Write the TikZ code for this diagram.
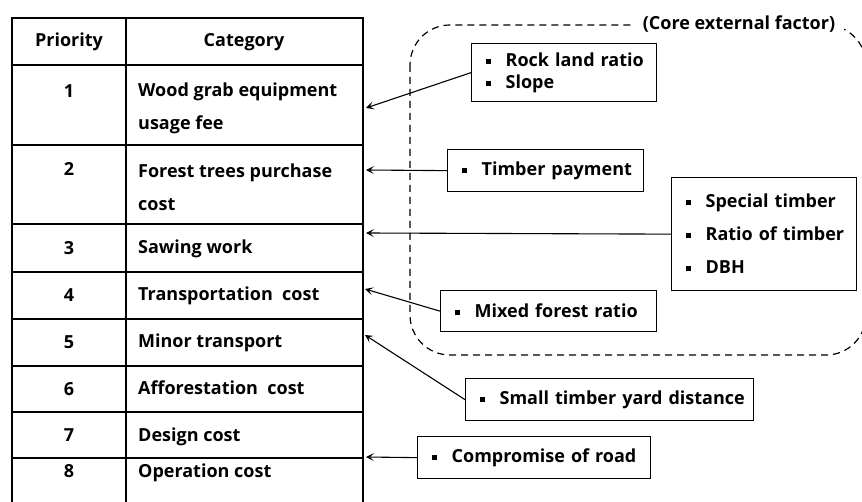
\documentclass[tikz,border=0pt]{standalone}
\usepackage{fontspec}
\setmainfont{Open Sans}
\usetikzlibrary{arrows.meta}
\newcommand{\sqb}{\hspace*{11pt}\makebox[20pt][l]{\rule[2.5pt]{5pt}{5pt}}}

\begin{document}
\begin{tikzpicture}[x=1pt,y=-1pt,
    cell/.style={font=\fontsize{18}{33}\selectfont\bfseries, inner sep=0pt, align=left},
    factor/.style={draw, line width=1.3pt, inner xsep=3pt, inner ysep=0pt, align=left, anchor=north west},
    link/.style={line width=1.1pt, -{Stealth[length=8pt, width=8pt, inset=4pt]}},
    rule/.style={line width=1.4pt}]
  \useasboundingbox (0,0) rectangle (862,502);
  % table frame
  \draw [rule] (12,508) -- (12,18) -- (363,18) -- (363,508);
  \draw [rule] (126,18) -- (126,508);
  \foreach \y in {65,145,224,272,319,366,412,458}
    \draw [rule] (12,\y) -- (363,\y);
  % header
  \node [cell] (p0) at (69,42) {Priority};
  \node [cell] (c0) at (244,42) {Category};
  % rows
  \node [cell] (p1) at (69,91) {1};
  \node [cell, anchor=west] (c1) at (138,108) {Wood grab equipment\\usage fee};
  \node [cell] (p2) at (69,169) {2};
  \node [cell, anchor=west] (c2) at (138,187) {Forest trees purchase\\cost};
  \node [cell] (p3) at (69,248) {3};
  \node [cell, anchor=base west] (c3) at (138,254) {Sawing work};
  \node [cell] (p4) at (69,295) {4};
  \node [cell, anchor=base west] (c4) at (138,301) {Transportation\ \ cost};
  \node [cell] (p5) at (69,342) {5};
  \node [cell, anchor=base west] (c5) at (138,348) {Minor transport};
  \node [cell] (p6) at (69,389) {6};
  \node [cell, anchor=base west] (c6) at (138,395) {Afforestation\ \ cost};
  \node [cell] (p7) at (69,435) {7};
  \node [cell, anchor=base west] (c7) at (138,441) {Design cost};
  \node [cell] (p8) at (69,471) {8};
  \node [cell, anchor=base west] (c8) at (138,477) {Operation cost};
  % arrow ends on the table
  \coordinate (t1) at (366,108);
  \coordinate (t2) at (366,170);
  \coordinate (t3) at (366,233);
  \coordinate (t4) at (365,289);
  \coordinate (t5) at (365,335);
  \coordinate (t7) at (366,457);
  % core external factor frame
  \draw [line width=1.2pt, dash pattern=on 7pt off 5pt, rounded corners=40pt] (410,25) rectangle (866,355);
  \node [cell, fill=white, inner xsep=9pt, inner ysep=2pt] (core) at (739,24) {(Core external factor)};
  % factor boxes
  \node [factor, minimum width=185pt, minimum height=58pt, text width=179pt,
    font=\fontsize{18}{22}\selectfont\bfseries] (b1) at (471,43) {\sqb Rock land ratio\\\sqb Slope};
  \node [factor, minimum width=196pt, minimum height=42pt, text width=190pt,
    font=\fontsize{18}{22}\selectfont\bfseries] (b2) at (447,149) {\sqb Timber payment};
  \node [factor, minimum width=185pt, minimum height=113pt, text width=179pt,
    font=\fontsize{18}{33}\selectfont\bfseries] (b3) at (671,177) {\sqb Special timber\\\sqb Ratio of timber\\\sqb DBH};
  \node [factor, minimum width=216pt, minimum height=41pt, text width=210pt,
    font=\fontsize{18}{22}\selectfont\bfseries] (b4) at (440,290) {\sqb Mixed forest ratio};
  \node [factor, minimum width=288pt, minimum height=42pt, text width=282pt,
    font=\fontsize{18}{22}\selectfont\bfseries] (b5) at (465,378) {\sqb Small timber yard distance};
  \node [factor, minimum width=233pt, minimum height=42pt, text width=227pt,
    font=\fontsize{18}{22}\selectfont\bfseries] (b6) at (417,436) {\sqb Compromise of road};
  % links
  \draw [link] (b1.west) -- (t1);
  \draw [link] (b2.west) -- (t2);
  \draw [link] (b3.west) -- (t3);
  \draw [link] (b4.west) -- (t4);
  \draw [link] (b5.west) -- (t5);
  \draw [link] (b6.west) -- (t7);
\end{tikzpicture}
\end{document}
